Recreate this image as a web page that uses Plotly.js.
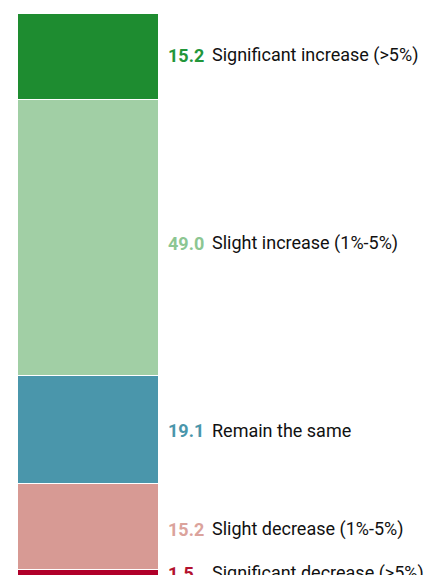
<!DOCTYPE html>
<html>
<head>
<meta charset="utf-8">
<script src="https://cdn.plot.ly/plotly-3.0.1.min.js"></script>
<style>html,body{margin:0;padding:0;background:#fff;}#chart{width:427px;height:575px;}</style>
</head>
<body>
<div id="chart"></div>
<script>
// Data (bottom to top of stack)
const categories = ["Significant decrease (>5%)", "Slight decrease (1%-5%)", "Remain the same", "Slight increase (1%-5%)", "Significant increase (>5%)"];
const values = [1.5, 15.2, 19.1, 49.0, 15.2];
const valueLabels = ["1.5", "15.2", "19.1", "49.0", "15.2"];
const barColors = ["#b0002a", "#d79a94", "#4a96ab", "#a1cfa5", "#1e8c30"];
const textColors = ["#b3112e", "#dba39c", "#4a96ab", "#8cc692", "#22963a"];
const labelShift = [0, -3, -1, -6, 1];

const traces = categories.map((c, i) => ({
  type: "bar",
  x: [0],
  y: [values[i]],
  name: c,
  width: 1,
  marker: { color: barColors[i], line: { color: "#ffffff", width: 1 } },
  hoverinfo: "skip"
}));

const annotations = [];
let cum = 0;
values.forEach((v, i) => {
  const mid = cum + v / 2;
  cum += v;
  annotations.push({
    xref: "paper", yref: "y", x: 167 / 427, y: mid, xanchor: "left", yanchor: "middle",
    yshift: labelShift[i],
    text: "<b>" + valueLabels[i] + "</b>", showarrow: false,
    font: { family: "Roboto", size: 18, color: textColors[i] }, borderpad: 0
  });
  annotations.push({
    xref: "paper", yref: "y", x: 211 / 427, y: mid, xanchor: "left", yanchor: "middle",
    yshift: labelShift[i],
    text: categories[i], showarrow: false,
    font: { family: "Roboto", size: 18, color: "#111111" }, borderpad: 0
  });
});

const layout = {
  width: 427, height: 575,
  margin: { l: 0, r: 0, t: 0, b: 0, pad: 0 },
  barmode: "stack",
  showlegend: false,
  paper_bgcolor: "#ffffff", plot_bgcolor: "#ffffff",
  xaxis: { range: [-0.62, 2.393], visible: false, fixedrange: true },
  yaxis: { range: [0.44, 102.36], visible: false, fixedrange: true },
  annotations: annotations,
  font: { family: "Roboto" }
};

Plotly.newPlot("chart", traces, layout, { displayModeBar: false, staticPlot: true });
</script>
</body>
</html>
